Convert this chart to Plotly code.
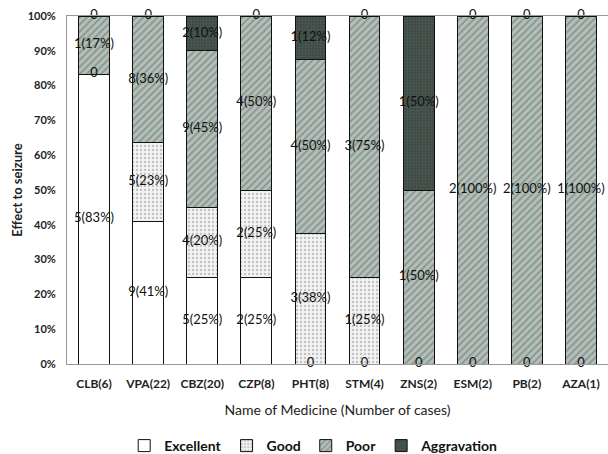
import plotly.graph_objects as go

categories = ["CLB(6)", "VPA(22)", "CBZ(20)", "CZP(8)", "PHT(8)",
              "STM(4)", "ZNS(2)", "ESM(2)", "PB(2)", "AZA(1)"]
excellent = [5, 9, 5, 2, 0, 0, 0, 0, 0, 0]
good = [0, 5, 4, 2, 3, 1, 0, 0, 0, 0]
poor = [1, 8, 9, 4, 4, 3, 1, 2, 2, 1]
aggravation = [0, 0, 2, 0, 1, 0, 1, 0, 0, 0]
series_names = ["Excellent", "Good", "Poor", "Aggravation"]
y_ticks = [0, 10, 20, 30, 40, 50, 60, 70, 80, 90, 100]

series = [excellent, good, poor, aggravation]
totals = [sum(s[i] for s in series) for i in range(len(categories))]
pcts = [[v / t * 100 for v, t in zip(s, totals)] for s in series]

styles = [
    dict(color="white", pattern=None),
    dict(color="#f2f2f2", pattern=dict(shape=".", fgcolor="#8c8c8c", bgcolor="#f2f2f2", size=4, solidity=0.25)),
    dict(color="#a9b6ae", pattern=dict(shape="/", fgcolor="#5f6e66", bgcolor="#b3bfb8", size=5, solidity=0.35)),
    dict(color="#44514b", pattern=dict(shape=".", fgcolor="#5f6b65", bgcolor="#3f4b45", size=3, solidity=0.3)),
]

fig = go.Figure()
for name, vals, st in zip(series_names, pcts, styles):
    marker = dict(color=st["color"], line=dict(color="#111111", width=1))
    if st["pattern"]:
        marker["pattern"] = st["pattern"]
    fig.add_trace(go.Bar(x=categories, y=vals, name=name, marker=marker, width=0.57,
                         hoverinfo="skip"))

# data labels (one label per position)
lx, ly, lt = [], [], []
for i, cat in enumerate(categories):
    base = 0
    seen = set()
    for s_idx in range(4):
        cnt = series[s_idx][i]
        p = pcts[s_idx][i]
        if cnt == 0:
            key = round(base, 6)
            if key not in seen:
                seen.add(key)
                lx.append(cat); ly.append(base); lt.append("0")
        else:
            lx.append(cat); ly.append(base + p / 2); lt.append(f"{cnt}({round(p)}%)")
        base += p

fig.add_trace(go.Scatter(x=lx, y=ly, text=lt, mode="text", showlegend=False,
                         textfont=dict(family="Lato", size=13, color="#111111"),
                         textposition="middle center", hoverinfo="skip", cliponaxis=False))

W, H = 608, 454
top, left = 16, 67
legend_reserve = 25.2   # height the legend reserves at the bottom
plot_bottom_px = 363
paper_h = H - top - legend_reserve
dom_bottom = (H - legend_reserve - plot_bottom_px) / paper_h

fig.update_layout(
    barmode="stack",
    width=W, height=H,
    margin=dict(l=left, r=0, t=top, b=0),
    plot_bgcolor="white", paper_bgcolor="white",
    bargap=0.43,
    font=dict(family="Lato", color="#222222"),
    legend=dict(orientation="h", x=0.456, xanchor="center",
                yref="container", y=(H - 446) / H, yanchor="middle",
                font=dict(family="Lato", size=14, color="#111111", weight="bold"),
                traceorder="normal", itemwidth=30),
    xaxis=dict(showline=True, linecolor="#999999", mirror=True, ticks="",
               automargin=False, ticklabelstandoff=9,
               tickfont=dict(family="Lato", size=12, color="#222222", weight="bold"),
               title=dict(text="Name of Medicine (Number of cases)",
                          font=dict(family="Lato", size=14, color="#222222"), standoff=14)),
    yaxis=dict(domain=[dom_bottom, 1],
               range=[0, 100], tickvals=y_ticks, ticktext=[f"{v}%" for v in y_ticks],
               showgrid=False, showline=True, linecolor="#999999", mirror=True,
               zeroline=False, ticks="", automargin=False, ticklabelstandoff=8,
               tickfont=dict(family="Lato", size=11, color="#222222", weight="bold"),
               title=dict(text="Effect to seizure",
                          font=dict(family="Lato", size=13, color="#222222", weight="bold"),
                          standoff=2)),
)

fig.write_html("out.html", config={"displayModeBar": False},
               post_script="document.body.style.margin='0px';")
